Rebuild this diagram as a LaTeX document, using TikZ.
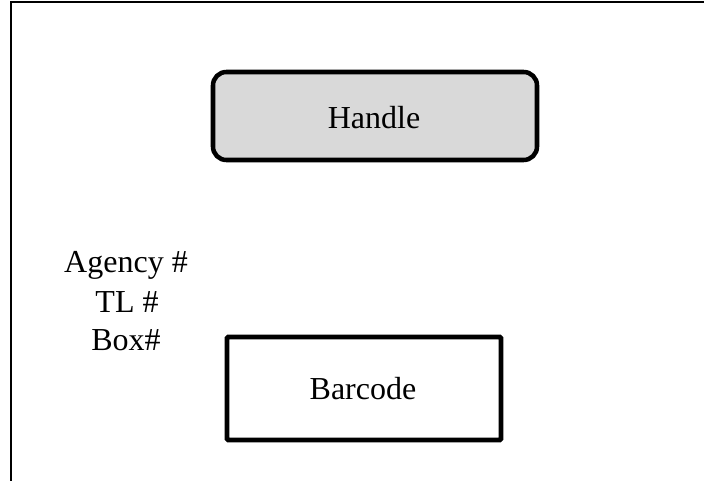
\documentclass[tikz,border=0pt]{standalone}
\usepackage{fontspec}
\setmainfont{Liberation Serif}
\tikzset{
  frameline/.style = {line width=1.5pt, black},
  handlebox/.style = {draw, fill=handlegray, line width=3.4pt, rounded corners=10pt,
                      minimum width=243pt, minimum height=66pt, inner sep=0pt},
  barcodebox/.style = {draw, line width=3.6pt, rounded corners=1pt,
                       minimum width=205.5pt, minimum height=77.25pt, inner sep=0pt},
  label/.style = {font=\fontsize{24}{29}\selectfont, inner sep=0pt, anchor=base}
}
\begin{document}
\begin{tikzpicture}[x=0.75pt, y=-0.75pt]
\definecolor{handlegray}{HTML}{D9D9D9}
\useasboundingbox (0,0) rectangle (704,481);
% page frame
\coordinate (topleft) at (11,2);
\coordinate (topright) at (704,2);
\coordinate (bottomleft) at (11,481);
\draw[frameline] (topright) -- (topleft) -- (bottomleft);
% boxes
\node[handlebox] (handle) at (375,116) {};
\node[label] (handletext) at (374,129) {Handle};
\node[barcodebox] (barcode) at (364,388.5) {};
\node[label] (barcodetext) at (363,399) {Barcode};
% ids
\node[label] (agency) at (126,273) {Agency \#};
\node[label] (tl) at (127,312) {TL \#};
\node[label] (box) at (126,350) {Box\#};
\end{tikzpicture}
\end{document}
